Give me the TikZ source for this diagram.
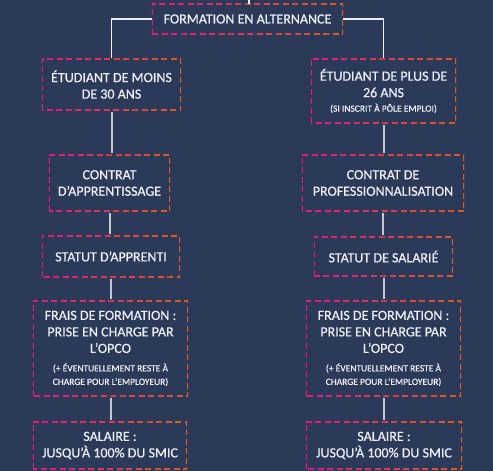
\documentclass[tikz,border=0pt]{standalone}
\usepackage{fontspec}
\setmainfont{Carlito}[FakeBold=0.5]
\usetikzlibrary{calc}
\definecolor{bg}{HTML}{2C3A5A}
\definecolor{pk}{HTML}{E2187C}
\definecolor{og}{HTML}{DB5A22}
\definecolor{txt}{HTML}{EEF0F4}
\definecolor{ln}{HTML}{C4C8D4}
\newcommand\gradframe[1]{%
  \foreach \i in {0,...,11}{%
    \pgfmathsetmacro\pc{100-\i*100/11}%
    \begin{scope}
      \clip ($(#1.south west)!\i/12!(#1.south east)+(0,6)$) rectangle ($(#1.north west)!{(\i+1)/12}!(#1.north east)+(0,-6)$);
      \draw[frame, color=pk!\pc!og] (#1.south west) rectangle (#1.north east);
    \end{scope}
  }}
\begin{document}
\begin{tikzpicture}[x=1pt,y=-1pt,
  box/.style={draw=none, align=center, text=txt, font=\fontsize{14}{16.5}\selectfont, inner sep=0pt},
  frame/.style={line width=1.5pt, dash pattern=on 6pt off 3.5pt},
  wl/.style={draw=white!92!bg, line width=1.6pt},
  vl/.style={draw=ln, line width=2pt, shorten <=2pt, shorten >=2pt}]
\fill[bg] (0,0) rectangle (493,471);
\useasboundingbox (0,0) rectangle (493,471);
\newcommand\sm[1]{{\fontsize{9.5}{11}\selectfont #1}}
\node[box, minimum width=191pt, minimum height=30pt] (top) at (247.5,19) {FORMATION EN ALTERNANCE};
\node[box, minimum width=139pt, minimum height=51pt] (l1) at (111.5,84.5) {ÉTUDIANT DE MOINS\\DE 30 ANS};
\node[box, minimum width=145pt, minimum height=64pt] (r1) at (383.5,91) {ÉTUDIANT DE PLUS DE\\26 ANS\\[-2pt]\sm{(SI INSCRIT À PÔLE EMPLOI)}};
\node[box, minimum width=121pt, minimum height=56pt] (l2) at (109.5,183) {CONTRAT\\D’APPRENTISSAGE};
\node[box, minimum width=162pt, minimum height=56pt] (r2) at (383,183) {CONTRAT DE\\PROFESSIONNALISATION};
\node[box, minimum width=138pt, minimum height=41pt] (l3) at (111,256.5) {STATUT D’APPRENTI};
\node[box, minimum width=139pt, minimum height=39pt] (r3) at (383.5,256.5) {STATUT DE SALARIÉ};
\node[box, minimum width=155pt, minimum height=95pt] (l4) at (110.5,348.5) {FRAIS DE FORMATION :\\PRISE EN CHARGE PAR\\L’OPCO\\[2pt]\sm{(+ ÉVENTUELLEMENT RESTE À}\\[-3pt]\sm{CHARGE POUR L’EMPLOYEUR)}};
\node[box, minimum width=155pt, minimum height=95pt] (r4) at (383.5,348.5) {FRAIS DE FORMATION :\\PRISE EN CHARGE PAR\\L’OPCO\\[2pt]\sm{(+ ÉVENTUELLEMENT RESTE À}\\[-3pt]\sm{CHARGE POUR L’EMPLOYEUR)}};
\node[box, minimum width=154pt, minimum height=47pt] (l5) at (110,445.5) {SALAIRE :\\JUSQU’À 100\% DU SMIC};
\node[box, minimum width=156pt, minimum height=47pt] (r5) at (384,445.5) {SALAIRE :\\JUSQU’À 100\% DU SMIC};
\foreach \n in {top,l1,r1,l2,r2,l3,r3,l4,r4,l5,r5}{\gradframe{\n}}
\coordinate (in) at (249,0);
\draw[wl] (in) -- (in |- top.north);
\draw[wl, shorten >=1pt] (top.west) -| (l1.north);
\draw[wl, shorten >=1pt] (top.east) -| (r1.north);
\draw[vl] (l1.south) -- (l1.south |- l2.north);
\draw[vl] (l2.south) -- (l2.south |- l3.north);
\draw[vl] (l3.south) -- (l3.south |- l4.north);
\draw[vl] (l4.south) -- (l4.south |- l5.north);
\draw[vl] (r1.south) -- (r1.south |- r2.north);
\draw[vl] (r2.south) -- (r2.south |- r3.north);
\draw[vl] (r3.south) -- (r3.south |- r4.north);
\draw[vl] (r4.south) -- (r4.south |- r5.north);
\end{tikzpicture}
\end{document}
